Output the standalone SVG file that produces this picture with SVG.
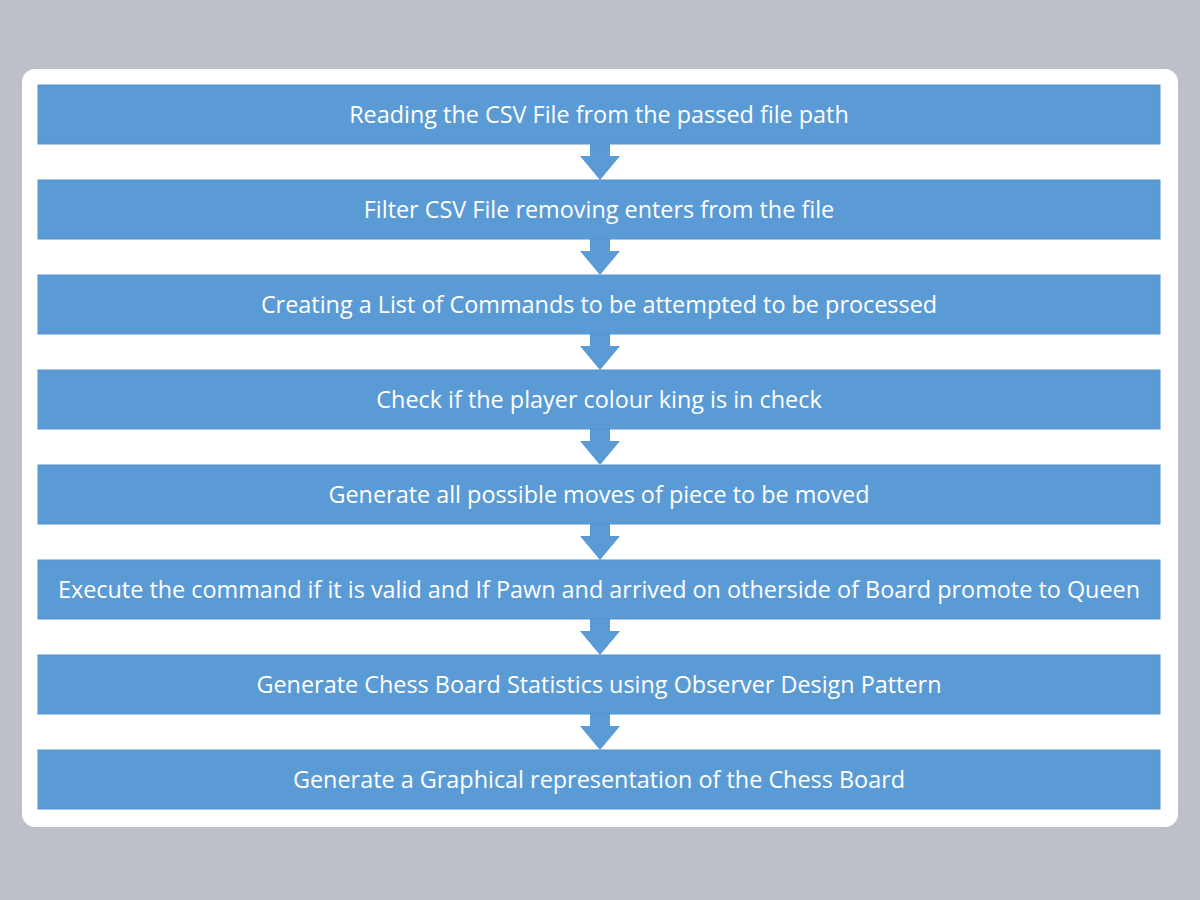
<svg xmlns="http://www.w3.org/2000/svg" width="1200" height="900" viewBox="0 0 1200 900">
<style>
.box{fill:#5B9BD5;stroke:#5593cc;stroke-width:1}
.lbl{font-family:"Open Sans","Noto Sans",sans-serif;font-size:23.4px;fill:#ffffff;text-anchor:middle}
.arr{fill:#5B9BD5}
</style>
<rect width="1200" height="900" fill="#BDC0C8"/>
<rect x="22" y="69" width="1156" height="758" rx="13" fill="#ffffff"/>
<g id="connectors">
<path class="arr" d="M590,144 H610 V156 H620 L600,180 L580,156 H590 Z"/>
<path class="arr" d="M590,239 H610 V251 H620 L600,275 L580,251 H590 Z"/>
<path class="arr" d="M590,334 H610 V346 H620 L600,370 L580,346 H590 Z"/>
<path class="arr" d="M590,429 H610 V441 H620 L600,465 L580,441 H590 Z"/>
<path class="arr" d="M590,524 H610 V536 H620 L600,560 L580,536 H590 Z"/>
<path class="arr" d="M590,619 H610 V631 H620 L600,655 L580,631 H590 Z"/>
<path class="arr" d="M590,714 H610 V726 H620 L600,750 L580,726 H590 Z"/>
</g>
<g id="n1"><rect class="box" x="38" y="85" width="1122" height="59"/><text class="lbl" x="599" y="123">Reading the CSV File from the passed file path</text></g>
<g id="n2"><rect class="box" x="38" y="180" width="1122" height="59"/><text class="lbl" x="599" y="218">Filter CSV File removing enters from the file</text></g>
<g id="n3"><rect class="box" x="38" y="275" width="1122" height="59"/><text class="lbl" x="599" y="313">Creating a List of Commands to be attempted to be processed</text></g>
<g id="n4"><rect class="box" x="38" y="370" width="1122" height="59"/><text class="lbl" x="599" y="408">Check if the player colour king is in check</text></g>
<g id="n5"><rect class="box" x="38" y="465" width="1122" height="59"/><text class="lbl" x="599" y="503">Generate all possible moves of piece to be moved</text></g>
<g id="n6"><rect class="box" x="38" y="560" width="1122" height="59"/><text class="lbl" x="599" y="598">Execute the command if it is valid and If Pawn and arrived on otherside of Board promote to Queen</text></g>
<g id="n7"><rect class="box" x="38" y="655" width="1122" height="59"/><text class="lbl" x="599" y="693">Generate Chess Board Statistics using Observer Design Pattern</text></g>
<g id="n8"><rect class="box" x="38" y="750" width="1122" height="59"/><text class="lbl" x="599" y="788">Generate a Graphical representation of the Chess Board</text></g>
</svg>
